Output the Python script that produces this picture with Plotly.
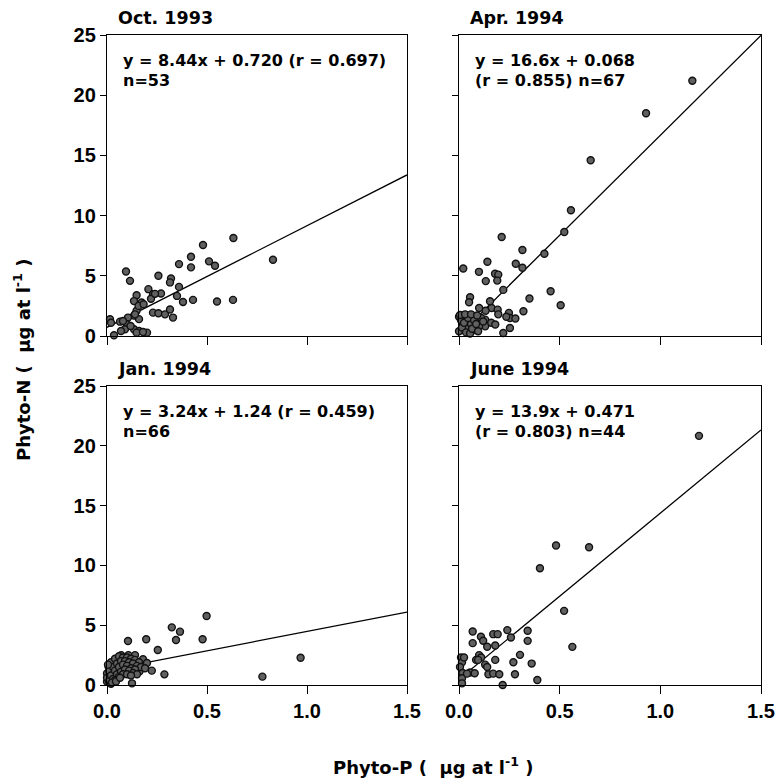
import plotly.graph_objects as go

# ---------------- data ----------------
panel_titles = ["Oct. 1993", "Apr. 1994", "Jan. 1994", "June 1994"]
eq_line1 = ["y = 8.44x + 0.720 (r = 0.697)", "y = 16.6x + 0.068",
            "y = 3.24x + 1.24 (r = 0.459)", "y = 13.9x + 0.471"]
eq_line2 = ["n=53", "(r = 0.855) n=67", "n=66", "(r = 0.803) n=44"]
slopes = [8.44, 16.6, 3.24, 13.9]
intercepts = [0.720, 0.068, 1.24, 0.471]

x_ticks = [0.0, 0.5, 1.0, 1.5]
x_tick_text = ["0.0", "0.5", "1.0", "1.5"]
y_ticks = [0, 5, 10, 15, 20, 25]
y_tick_text = ["0", "5", "10", "15", "20", "25"]

oct_x = [0.632, 0.48, 0.83, 0.42, 0.42, 0.51, 0.54, 0.36, 0.257, 0.095, 0.115, 0.32, 0.315,
         0.36, 0.207, 0.23, 0.27, 0.22, 0.35, 0.38, 0.43, 0.55, 0.63, 0.148, 0.173, 0.135,
         0.23, 0.257, 0.29, 0.315, 0.33, 0.148, 0.135, 0.16, 0.105, 0.015, 0.02, 0.065, 0.1,
         0.09, 0.135, 0.16, 0.2, 0.035, 0.148, 0.118, 0.18, 0.14, 0.158, 0.183, 0.24, 0.07, 0.08]
oct_y = [8.14, 7.56, 6.33, 6.58, 5.7, 6.2, 5.83, 5.97, 5.0, 5.36, 4.58, 4.78, 4.45,
         4.08, 3.89, 3.47, 3.53, 3.1, 3.33, 2.83, 3.0, 2.86, 3.0, 3.39, 2.78, 2.9,
         1.94, 1.89, 1.8, 2.2, 1.53, 2.1, 1.69, 1.4, 1.53, 1.39, 1.1, 1.19, 0.97,
         0.56, 0.56, 0.42, 0.28, 0.06, 0.28, 0.83, 0.33, 1.8, 2.5, 2.64, 3.5, 0.42, 1.25]

apr_x = [1.159, 0.929, 0.654, 0.556, 0.523, 0.424, 0.212, 0.315, 0.141, 0.282, 0.315, 0.021,
         0.099, 0.179, 0.133, 0.195, 0.19, 0.22, 0.455, 0.35, 0.505,
         0.055, 0.05, 0.154, 0.162, 0.192, 0.195, 0.132, 0.32, 0.248, 0.253, 0.235, 0.28,
         0.253, 0.22, 0.1, 0.13, 0.16, 0.13, 0.18,
         0.0, 0.01, 0.02, 0.03, 0.04, 0.05, 0.06, 0.07, 0.08, 0.09, 0.1, 0.11, 0.0, 0.015,
         0.025, 0.035, 0.045, 0.055, 0.065, 0.075, 0.085, 0.095, 0.005, 0.03, 0.06, 0.09, 0.12]
apr_y = [21.2, 18.5, 14.6, 10.44, 8.64, 6.83, 8.22, 7.14, 6.17, 6.0, 5.67, 5.61,
         5.33, 5.17, 4.56, 5.1, 4.6, 3.83, 3.72, 3.11, 2.56,
         3.22, 2.8, 2.89, 2.33, 2.19, 1.8, 2.1, 2.06, 1.92, 1.5, 1.6, 1.45,
         0.67, 0.25, 2.33, 1.36, 1.1, 0.8, 0.95,
         1.6, 1.3, 0.9, 1.7, 0.6, 1.4, 1.0, 1.6, 0.5, 1.2, 0.8, 1.5, 0.4, 0.7,
         1.1, 0.3, 1.5, 0.2, 0.6, 1.3, 1.0, 0.4, 1.75, 1.8, 1.8, 1.7, 1.2]

jan_x = [0.498, 0.324, 0.365, 0.345, 0.478, 0.196, 0.105, 0.254, 0.968, 0.777, 0.287, 0.224,
         0.125, 0.071, 0.107, 0.14, 0.18, 0.2, 0.163, 0.008, 0.0, 0.0,
         0.02, 0.04, 0.06, 0.08, 0.1, 0.12, 0.14, 0.16, 0.01, 0.03, 0.05, 0.07, 0.09,
         0.11, 0.13, 0.15, 0.17, 0.0, 0.02, 0.04, 0.06, 0.08, 0.1, 0.12, 0.14, 0.19,
         0.01, 0.03, 0.05, 0.07, 0.09, 0.11, 0.13, 0.15, 0.02, 0.04, 0.06, 0.08, 0.1,
         0.12, 0.005, 0.025, 0.045, 0.065]
jan_y = [5.77, 4.82, 4.46, 3.76, 3.82, 3.82, 3.68, 2.93, 2.28, 0.70, 0.89, 1.2,
         0.14, 2.5, 2.5, 2.5, 2.15, 1.84, 1.14, 1.53, 0.97, 0.28,
         1.9, 2.2, 2.4, 2.3, 2.3, 2.2, 2.1, 1.9, 1.2, 1.5, 1.8, 2.0, 2.0,
         1.9, 1.8, 1.6, 1.5, 0.6, 0.8, 1.2, 1.5, 1.7, 1.6, 1.4, 1.3, 1.4,
         0.3, 0.5, 0.9, 1.1, 1.3, 1.2, 1.0, 0.9, 0.1, 0.4, 0.7, 0.9, 0.9,
         0.8, 1.7, 0.2, 0.3, 0.6]

jun_x = [1.192, 0.482, 0.646, 0.402, 0.522, 0.563, 0.341, 0.341, 0.24, 0.258, 0.068, 0.068,
         0.109, 0.12, 0.14, 0.17, 0.192, 0.18, 0.303, 0.27, 0.361, 0.278, 0.389, 0.217,
         0.18, 0.1, 0.085, 0.11, 0.13, 0.14, 0.146, 0.17, 0.2, 0.055, 0.078, 0.01, 0.015,
         0.005, 0.018, 0.015, 0.015, 0.025, 0.095, 0.04]
jun_y = [20.83, 11.66, 11.52, 9.76, 6.2, 3.19, 4.53, 3.69, 4.59, 3.97, 4.47, 3.5,
         4.03, 3.7, 3.2, 4.25, 4.25, 3.3, 2.52, 1.9, 1.79, 0.9, 0.42, 0.0,
         2.1, 2.5, 2.1, 2.3, 1.7, 1.5, 0.9, 0.95, 0.9, 1.04, 0.98, 2.3, 1.9,
         1.5, 1.0, 0.56, 0.14, 2.3, 2.1, 0.95]

xs = [oct_x, apr_x, jan_x, jun_x]
ys = [oct_y, apr_y, jan_y, jun_y]

# ---------------- layout geometry ----------------
W = H = 779
x_domains = [[107 / W, 407 / W], [459 / W, 761 / W]]
y_domains = [[1 - 336 / H, 1 - 35 / H], [1 - 685 / H, 1 - 386 / H]]

BOLD = dict(family="DejaVu Sans", weight="bold", color="black")
TICKFONT = dict(family="Liberation Sans, Arial", weight="bold", color="black", size=20)

fig = go.Figure()
layout = dict(width=W, height=H, autosize=False, margin=dict(l=0, r=0, t=0, b=0, pad=0, autoexpand=False),
              template="none",
              plot_bgcolor="white", paper_bgcolor="white", showlegend=False)

annotations = []
for i in range(4):
    row, col = divmod(i, 2)
    n = i + 1
    xa = "x" if n == 1 else f"x{n}"
    ya = "y" if n == 1 else f"y{n}"
    xname = "xaxis" if n == 1 else f"xaxis{n}"
    yname = "yaxis" if n == 1 else f"yaxis{n}"

    layout[xname] = dict(domain=x_domains[col], range=[0, 1.5], anchor=ya,
                         tickvals=x_ticks, ticktext=x_tick_text, automargin=False,
                         showticklabels=(row == 1), ticks="outside", ticklen=8,
                         tickwidth=1, tickcolor="black",
                         showline=True, linecolor="black", linewidth=1.3, mirror=True,
                         showgrid=False, zeroline=False, tickfont=TICKFONT)
    layout[yname] = dict(domain=y_domains[row], range=[0, 25], anchor=xa,
                         tickvals=y_ticks, ticktext=y_tick_text, automargin=False,
                         showticklabels=(col == 0), ticks="outside", ticklen=6,
                         tickwidth=1, tickcolor="black",
                         showline=True, linecolor="black", linewidth=1.3, mirror=True,
                         showgrid=False, zeroline=False, tickfont=TICKFONT)

    # regression line computed from slope/intercept over the axis range
    lx = [0.0, 1.5]
    ly = [slopes[i] * v + intercepts[i] for v in lx]
    fig.add_trace(go.Scatter(x=lx, y=ly, mode="lines", xaxis=xa, yaxis=ya,
                             line=dict(color="black", width=1.3), hoverinfo="skip"))
    fig.add_trace(go.Scatter(x=xs[i], y=ys[i], mode="markers", xaxis=xa, yaxis=ya,
                             cliponaxis=False,
                             marker=dict(size=7, color="#606060",
                                         line=dict(color="#111111", width=1.4))))

    annotations.append(dict(text=panel_titles[i], xref=f"{xa} domain", yref=f"{ya} domain",
                            x=0.03, y=1.058, xanchor="left", yanchor="middle",
                            showarrow=False, font=dict(size=17.5, **BOLD)))
    annotations.append(dict(text=eq_line1[i], xref=f"{xa} domain", yref=f"{ya} domain",
                            x=0.045, y=0.915, xanchor="left", yanchor="middle",
                            showarrow=False, font=dict(size=16, **BOLD)))
    annotations.append(dict(text=eq_line2[i], xref=f"{xa} domain", yref=f"{ya} domain",
                            x=0.045, y=0.848, xanchor="left", yanchor="middle",
                            showarrow=False, font=dict(size=16, **BOLD)))

annotations.append(dict(text="Phyto-N (  µg at l<sup>-1</sup> )", xref="paper", yref="paper",
                        x=22 / W, y=1 - 360 / H, textangle=-90, xanchor="center",
                        yanchor="middle", showarrow=False, font=dict(size=18, **BOLD)))
annotations.append(dict(text="Phyto-P (  µg at l<sup>-1</sup> )", xref="paper", yref="paper",
                        x=433 / W, y=1 - 766 / H, xanchor="center",
                        yanchor="middle", showarrow=False, font=dict(size=18, **BOLD)))

layout["annotations"] = annotations
fig.update_layout(**layout)
fig.write_html("out.html", config={"responsive": False, "displayModeBar": False},
               post_script="document.body.style.margin='0';document.body.style.overflow='hidden';")
